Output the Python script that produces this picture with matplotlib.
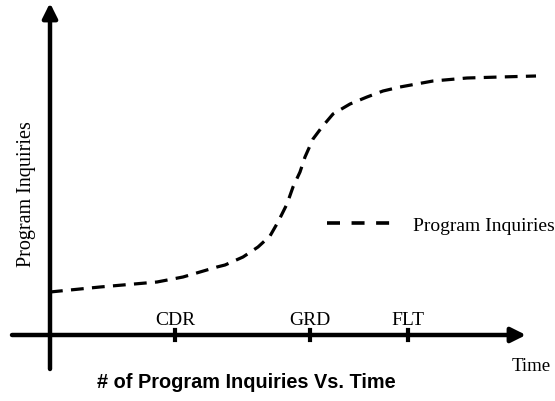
import matplotlib.pyplot as plt
from matplotlib.lines import Line2D

# data (arbitrary units, origin at the axes crossing)
time = [0, 50, 107, 133, 167, 175, 193, 208, 220, 228, 237, 243, 250, 255,
        263, 272, 283, 300, 317, 333, 350, 383, 417, 450, 486]
inquiries = [43, 48, 53, 58, 68, 70, 78, 88, 99, 113, 131, 148, 163, 178,
             196, 208, 221, 231, 238, 244, 248, 254, 257, 258, 259]

milestones = ['CDR', 'GRD', 'FLT']
milestone_t = [125, 260, 358]

fig = plt.figure(figsize=(5.55, 4.02), dpi=100)
ax = fig.add_axes([0, 0, 1, 1])
ax.set_xlim(-50, 505)
ax.set_ylim(-66, 336)
ax.axis('off')

# axes with arrow heads
ax.annotate('', xy=(476, 0), xytext=(-38, 0),
            arrowprops=dict(arrowstyle='-|>', lw=3.2, color='k', mutation_scale=22, shrinkA=0, shrinkB=0))
ax.annotate('', xy=(0, 332), xytext=(0, -34),
            arrowprops=dict(arrowstyle='-|>', lw=3.2, color='k', mutation_scale=22, shrinkA=0, shrinkB=0))

# milestone ticks
for t, lab in zip(milestone_t, milestones):
    ax.plot([t, t], [-5, 5], color='k', lw=3)
    ax.text(t, 7, lab, ha='center', va='bottom', fontsize=14, family='Liberation Serif')

# curve
ax.plot(time, inquiries, color='k', lw=2.3, dashes=(4, 2.6))

handle = Line2D([], [], color='k', lw=2.6, dashes=(3.6, 3.2))
ax.legend([handle], ['Program Inquiries'], loc='center left', bbox_to_anchor=(327 / 555, 1 - 226 / 402),
          frameon=False, handlelength=3.4, handletextpad=1.0, borderpad=0, borderaxespad=0,
          prop=dict(family='Liberation Serif', size=14))

ax.text(-23, 142, 'Program Inquiries', rotation=90, ha='center', va='center',
        fontsize=14.5, family='Liberation Serif')
ax.text(462, -31, 'Time', ha='left', va='center', fontsize=13.5, family='Liberation Serif')
fig.text(246 / 555, 1 - 383 / 402, '# of Program Inquiries Vs. Time', ha='center', va='center',
         fontsize=14.3, fontweight='bold', family='Liberation Sans')

fig.savefig('out.png', dpi=100)
